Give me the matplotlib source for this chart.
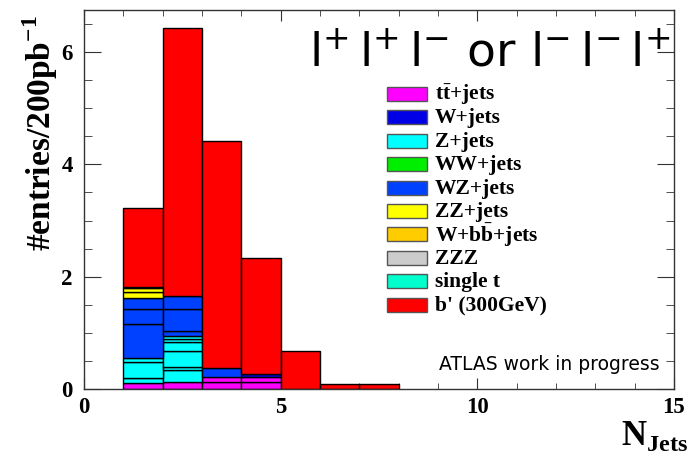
import numpy as np
import matplotlib
matplotlib.use('Agg')
import matplotlib.pyplot as plt
from matplotlib.patches import Rectangle
from matplotlib.ticker import MultipleLocator

plt.rcParams['mathtext.fontset'] = 'custom'
plt.rcParams['mathtext.bf'] = 'Liberation Serif:bold'
plt.rcParams['mathtext.rm'] = 'Liberation Serif:bold'
plt.rcParams['mathtext.sf'] = 'DejaVu Sans'

# jet multiplicity bins (lower edges, width 1)
njets = np.array([1, 2, 3, 4, 5, 6, 7])

# stacked background pieces (entries per bin), bottom to top
ttbar_a = np.array([0.107, 0.13, 0.12, 0.12, 0, 0, 0])
ttbar_b = np.array([0, 0, 0.09, 0.09, 0, 0, 0])
wjets = np.array([0, 0, 0, 0.05, 0, 0, 0])
zjets_1 = np.array([0.089, 0.20, 0, 0, 0, 0, 0])
zjets_2 = np.array([0.284, 0.06, 0, 0, 0, 0, 0])
zjets_3 = np.array([0.07, 0.29, 0, 0, 0, 0, 0])
zjets_4 = np.array([0, 0.15, 0, 0, 0, 0, 0])
zjets_5 = np.array([0, 0.06, 0, 0, 0, 0, 0])
zjets_6 = np.array([0, 0.06, 0, 0, 0, 0, 0])
wz_1 = np.array([0.60, 0.08, 0.165, 0, 0, 0, 0])
wz_2 = np.array([0.27, 0.39, 0, 0, 0, 0, 0])
wz_3 = np.array([0.20, 0.23, 0, 0, 0, 0, 0])
zz_1 = np.array([0.105, 0, 0, 0, 0, 0, 0])
zz_2 = np.array([0.065, 0, 0, 0, 0, 0, 0])
zz_3 = np.array([0.03, 0, 0, 0, 0, 0, 0])
# signal on top
bprime = np.array([1.41, 4.78, 4.035, 2.08, 0.68, 0.09, 0.09])

legend_labels = [r'$\mathbf{t\bar{t}}$+jets', 'W+jets', 'Z+jets', 'WW+jets', 'WZ+jets',
                 'ZZ+jets', r'W+$\mathbf{b\bar{b}}$+jets', 'ZZZ', 'single t', "b' (300GeV)"]
legend_colors = ['#ff00ff', '#0000e6', '#00ffff', '#00ee00', '#0040ff',
                 '#ffff00', '#ffcc00', '#cccccc', '#00ffcc', '#ff0000']

c = dict(zip(['tt', 'w', 'z', 'ww', 'wz', 'zz', 'wbb', 'zzz', 'st', 'bp'], legend_colors))
layers = [(ttbar_a, c['tt']), (ttbar_b, c['tt']), (wjets, c['w']),
          (zjets_1, c['z']), (zjets_2, c['z']), (zjets_3, c['z']),
          (zjets_4, c['z']), (zjets_5, c['z']), (zjets_6, c['z']),
          (wz_1, c['wz']), (wz_2, c['wz']), (wz_3, c['wz']),
          (zz_1, c['zz']), (zz_2, c['zz']), (zz_3, c['zz']),
          (bprime, c['bp'])]

W, H = 689, 459
fig = plt.figure(figsize=(W / 100, H / 100), dpi=100)
ax = fig.add_axes([84 / W, 70 / H, 590 / W, 379 / H])

bottom = np.zeros(len(njets))
for vals, col in layers:
    m = vals > 0
    ax.bar(njets[m], vals[m], width=1, bottom=bottom[m], align='edge',
           color=col, edgecolor='black', linewidth=1, zorder=2)
    bottom = bottom + vals

ax.set_xlim(0, 15)
ax.set_ylim(0, 6.75)
ax.xaxis.set_major_locator(MultipleLocator(5))
ax.xaxis.set_minor_locator(MultipleLocator(1))
ax.yaxis.set_major_locator(MultipleLocator(2))
ax.yaxis.set_minor_locator(MultipleLocator(0.5))
ax.tick_params(which='both', direction='in', top=True, right=True, color='#333333')
ax.tick_params(axis='y', which='major', length=12, pad=8)
ax.tick_params(axis='y', which='minor', length=6)
ax.tick_params(axis='x', which='major', length=8, pad=6)
ax.tick_params(axis='x', which='minor', length=4)
for lab in ax.get_xticklabels() + ax.get_yticklabels():
    lab.set_fontfamily('Liberation Serif')
    lab.set_fontweight('bold')
    lab.set_fontsize(16.5)
for s in ax.spines.values():
    s.set_color('#333333')
    s.set_linewidth(1)

fig.text(40 / W, 1 - 133 / H, r'#entries/200pb$^{\mathbf{-1}}$', rotation=90,
         ha='center', va='center', fontfamily='Liberation Serif', fontweight='bold', fontsize=24)
fig.text(688 / W, 1 - 436 / H, r'N$_{\mathbf{Jets}}$', ha='right', va='center',
         fontfamily='Liberation Serif', fontweight='bold', fontsize=25)

fig.text(670 / W, 1 - 67 / H,
         r'$\mathsf{l^{+}\,l^{+}\,l^{-}}$ or $\mathsf{l^{-}\,l^{-}\,l^{+}}$',
         ha='right', va='baseline', fontfamily='DejaVu Sans', fontsize=34)
fig.text(660 / W, 1 - 370 / H, 'ATLAS work in progress', ha='right', va='baseline',
         fontfamily='DejaVu Sans', fontsize=13.5)

# legend drawn by hand, ROOT style
for i, (lab, col) in enumerate(zip(legend_labels, legend_colors)):
    yc = 94 + 23.4 * i
    fig.patches.append(Rectangle((387 / W, 1 - (yc + 7) / H), 40 / W, 14 / H,
                                 transform=fig.transFigure, facecolor=col,
                                 edgecolor='#555555', linewidth=1))
    fig.text(435 / W, 1 - (yc + 1) / H, lab, ha='left', va='center',
             fontfamily='Liberation Serif', fontweight='bold', fontsize=15.5)

fig.savefig('out.png', dpi=100)
